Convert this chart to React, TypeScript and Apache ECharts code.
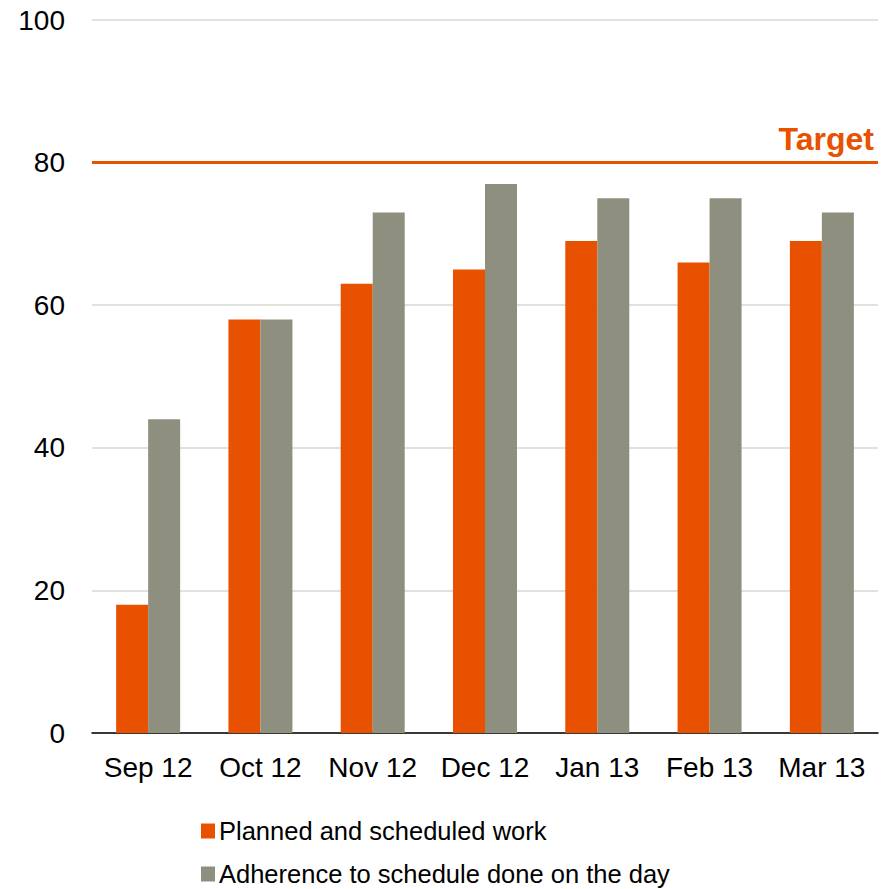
import React, { useEffect, useRef } from "react";
import * as echarts from "echarts";

const categories = ["Sep 12", "Oct 12", "Nov 12", "Dec 12", "Jan 13", "Feb 13", "Mar 13"];
const planned = [18, 58, 63, 65, 69, 66, 69];
const adherence = [44, 58, 73, 77, 75, 75, 73];
const targetValue = 80;
const seriesNames = ["Planned and scheduled work", "Adherence to schedule done on the day"];

const ORANGE = "#E85100";
const GRAY = "#8F8F7F";
const FONT = "'Liberation Sans', Arial, sans-serif";

export default function App() {
  const ref = useRef<HTMLDivElement>(null);
  useEffect(() => {
    if (!ref.current) return;
    const chart = echarts.init(ref.current, undefined, { renderer: "svg" });
    chart.setOption({
      animation: false,
      textStyle: { fontFamily: FONT },
      grid: { left: 92, right: 8, top: 20, bottom: 156, containLabel: false },
      legend: {
        orient: "vertical",
        left: 201,
        top: 818,
        padding: 0,
        itemWidth: 14,
        itemHeight: 15,
        itemGap: 17,
        icon: "rect",
        textStyle: { fontSize: 25.5, color: "#000", fontFamily: FONT, padding: [0, 0, 0, -1] },
        data: seriesNames,
      },
      xAxis: {
        type: "category",
        data: categories,
        axisLine: { lineStyle: { color: "#000", width: 1.5 } },
        axisTick: { show: false },
        axisLabel: { fontSize: 28, color: "#000", margin: 20, fontFamily: FONT, interval: 0 },
      },
      yAxis: {
        type: "value",
        min: 0,
        max: 100,
        interval: 20,
        axisLine: { show: false },
        axisTick: { show: false },
        axisLabel: { fontSize: 28, color: "#000", margin: 27, fontFamily: FONT },
        splitLine: { lineStyle: { color: "#D9D9D2", width: 1.5 } },
      },
      series: [
        {
          name: seriesNames[0],
          type: "bar",
          data: planned,
          barGap: "0%",
          barCategoryGap: "43%",
          itemStyle: { color: ORANGE },
          markLine: {
            silent: true,
            symbol: "none",
            data: [{ yAxis: targetValue }],
            lineStyle: { color: ORANGE, width: 3, type: "solid" },
            label: {
              show: true,
              position: "insideEndTop",
              formatter: "Target",
              color: ORANGE,
              fontSize: 32,
              fontWeight: "bold",
              fontFamily: FONT,
              distance: [4, 8],
            },
          },
        },
        {
          name: seriesNames[1],
          type: "bar",
          data: adherence,
          barGap: "0%",
          barCategoryGap: "43%",
          itemStyle: { color: GRAY },
        },
      ],
    });
    return () => chart.dispose();
  }, []);
  return <div ref={ref} style={{ width: 886, height: 889, position: "absolute", left: 0, top: 0 }} />;
}
